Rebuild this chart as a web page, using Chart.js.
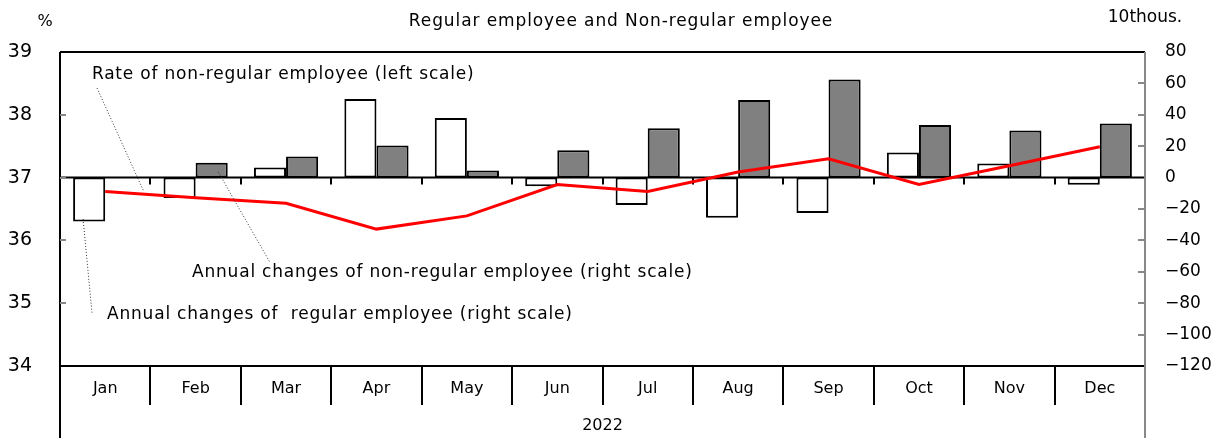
<!DOCTYPE html>
<html>
<head>
<meta charset="utf-8">
<script src="https://cdn.jsdelivr.net/npm/chart.js@4.4.0/dist/chart.umd.min.js"></script>
<style>
  html, body { margin: 0; padding: 0; background: #fff; }
</style>
</head>
<body>
<canvas id="mycanvas" width="1221" height="438"></canvas>
<script>
// データ（2022年）
const months = ['Jan', 'Feb', 'Mar', 'Apr', 'May', 'Jun', 'Jul', 'Aug', 'Sep', 'Oct', 'Nov', 'Dec'];
const year_label = '2022';
// 非正規の割合（%、左軸）
const rate_nonregular = [36.78, 36.68, 36.59, 36.18, 36.39, 36.89, 36.78, 37.09, 37.30, 36.89, 37.19, 37.49];
// 正規の前年同月差（万人、右軸）
const change_regular = [-28, -13, 6.5, 50, 38, -5.5, -17.5, -25.5, -22.5, 16, 9, -4.5];
// 非正規の前年同月差（万人、右軸）
const change_nonregular = [0, 9.5, 13.5, 20.5, 4.5, 17.5, 31.5, 49.5, 62.5, 33.5, 30, 34.5];

const FONT = 'DejaVu Sans';

// 注記（位置は x=月インデックス, y=右軸の値）
const notes = [
  { text: 'Rate of non-regular employee (left scale)', tx: -0.147, ty: 65.4, from: [-0.09, 57], to: [0.42, -8] },
  { text: 'Annual changes of non-regular employee (right scale)', tx: 0.96, ty: -60.8, from: [1.25, 3.6], to: [1.82, -53.8] },
  { text: 'Annual changes of  regular employee (right scale)', tx: 0.02, ty: -87.5, from: [-0.245, -26.4], to: [-0.146, -86.2] },
];

const frame_plugin = {
  id: 'frame',
  beforeDatasetDraw(chart, args) {
    if (args.index !== 0) return;
    const { ctx, chartArea: a, scales: { x, y1 } } = chart;
    const y0 = y1.getPixelForValue(0);
    ctx.save();
    ctx.strokeStyle = '#000';
    ctx.lineWidth = 2;
    ctx.beginPath();
    ctx.moveTo(a.left, y0);
    ctx.lineTo(a.right, y0);
    for (let i = 0; i < months.length - 1; i++) {
      const bx = Math.round(x.getPixelForValue(i + 0.5));
      ctx.moveTo(bx, y0);
      ctx.lineTo(bx, y0 + 7);
    }
    ctx.stroke();
    ctx.restore();
  },
  afterDraw(chart) {
    const { ctx, chartArea: a, scales: { x, y, y1 } } = chart;
    const H = chart.height;
    ctx.save();
    // 枠
    ctx.lineWidth = 2;
    ctx.strokeStyle = '#000';
    ctx.beginPath();
    ctx.moveTo(a.left, a.top); ctx.lineTo(a.left, H);
    ctx.moveTo(a.left, a.top); ctx.lineTo(a.right, a.top);
    ctx.moveTo(a.left, a.bottom); ctx.lineTo(a.right, a.bottom);
    for (let i = 0; i < months.length - 1; i++) {
      const bx = Math.round(x.getPixelForValue(i + 0.5));
      ctx.moveTo(bx, a.bottom); ctx.lineTo(bx, a.bottom + 39);
    }
    ctx.stroke();
    ctx.strokeStyle = '#888';
    ctx.beginPath();
    ctx.moveTo(a.right, a.top); ctx.lineTo(a.right, H);
    // 目盛り（内向き）
    for (let v = 35; v <= 38; v++) {
      const py = Math.round(y.getPixelForValue(v));
      ctx.moveTo(a.left, py); ctx.lineTo(a.left + 6, py);
    }
    for (let v = -100; v <= 60; v += 20) {
      if (v === 0) continue;
      const py = Math.round(y1.getPixelForValue(v));
      ctx.moveTo(a.right - 7, py); ctx.lineTo(a.right, py);
    }
    ctx.stroke();

    // テキスト
    ctx.fillStyle = '#000';
    ctx.textBaseline = 'middle';
    ctx.textAlign = 'center';
    ctx.font = '16px ' + FONT;
    ctx.fillText('%', 45, 22);
    ctx.fillText(year_label, (a.left + a.right) / 2, a.bottom + 60);
    ctx.font = '17px ' + FONT;
    ctx.fillText('10thous.', 1145, 18);
    ctx.letterSpacing = '0.9px';
    ctx.fillText('Regular employee and Non-regular employee', 621, 22);

    // 注記と引き出し線
    ctx.textAlign = 'left';
    ctx.letterSpacing = '0.8px';
    notes.forEach(n => {
      ctx.fillText(n.text, x.getPixelForValue(n.tx), y1.getPixelForValue(n.ty));
      ctx.save();
      ctx.strokeStyle = '#333';
      ctx.lineWidth = 1;
      ctx.setLineDash([1, 2]);
      ctx.beginPath();
      ctx.moveTo(x.getPixelForValue(n.from[0]), y1.getPixelForValue(n.from[1]));
      ctx.lineTo(x.getPixelForValue(n.to[0]), y1.getPixelForValue(n.to[1]));
      ctx.stroke();
      ctx.restore();
    });
    ctx.restore();
  }
};

const ctx = document.querySelector('#mycanvas').getContext('2d');
const myChart = new Chart(ctx, {
  type: 'bar',
  data: {
    labels: months,
    datasets: [
      {
        type: 'line',
        label: 'Rate of non-regular employee (left scale)',
        data: rate_nonregular,
        yAxisID: 'y',
        borderColor: '#ff0000',
        borderWidth: 3,
        pointRadius: 0,
        tension: 0,
        order: 0
      },
      {
        label: 'Annual changes of regular employee (right scale)',
        data: change_regular,
        yAxisID: 'y1',
        backgroundColor: '#ffffff',
        borderColor: '#000000',
        borderWidth: 2,
        borderSkipped: false,
        order: 1
      },
      {
        label: 'Annual changes of non-regular employee (right scale)',
        data: change_nonregular,
        yAxisID: 'y1',
        backgroundColor: '#808080',
        borderColor: '#000000',
        borderWidth: 2,
        borderSkipped: false,
        order: 2
      }
    ]
  },
  options: {
    responsive: false,
    animation: false,
    layout: { padding: { top: 52, left: 0, right: 0, bottom: 0 } },
    datasets: { bar: { categoryPercentage: 0.71, barPercentage: 1.0 } },
    plugins: { legend: { display: false }, tooltip: { enabled: false } },
    scales: {
      x: {
        grid: { display: false },
        border: { display: false },
        ticks: { color: '#000', font: { family: FONT, size: 16 }, padding: 5, maxRotation: 0 },
        afterFit(s) { s.height = 72; }
      },
      y: {
        position: 'left',
        min: 34, max: 39,
        grid: { display: false },
        border: { display: false },
        ticks: { stepSize: 1, color: '#000', font: { family: FONT, size: 19 }, padding: 20 },
        afterFit(s) { s.width = 60; }
      },
      y1: {
        position: 'right',
        min: -120, max: 80,
        grid: { display: false },
        border: { display: false },
        ticks: {
          stepSize: 20, color: '#000', font: { family: FONT, size: 17 }, padding: 12,
          callback: v => String(v).replace('-', '\u2212')
        },
        afterFit(s) { s.width = 76; }
      }
    }
  },
  plugins: [frame_plugin]
});
</script>
</body>
</html>
